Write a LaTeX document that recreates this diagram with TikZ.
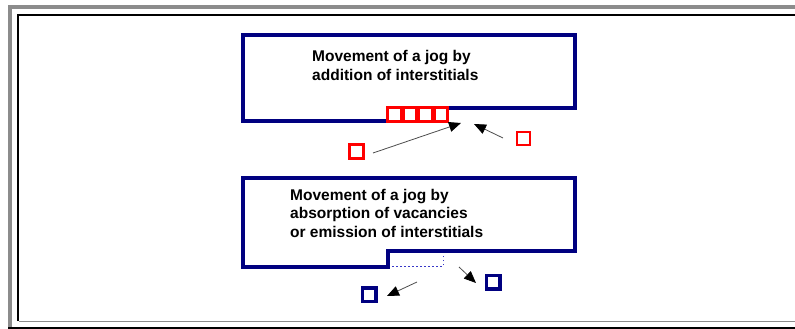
\documentclass[tikz,border=0pt]{standalone}
\usepackage{fontspec}
\setmainfont{Liberation Sans}
\usetikzlibrary{arrows.meta}
\definecolor{navy}{HTML}{000080}
\definecolor{dotblue}{HTML}{3838C8}
\newlength{\sqsize}
\setlength{\sqsize}{13.5pt}
\tikzset{crystal/.style = {draw=navy, line width=3.5pt, line join=miter}}
\tikzset{inter/.style = {shape=rectangle, draw=red, line width=3pt, minimum size=\sqsize, inner sep=0pt}}
\tikzset{vac/.style = {shape=rectangle, draw=navy, line width=3.5pt, minimum size=\sqsize, inner sep=0pt}}
\tikzset{edge/.style = {-{Triangle[length=12pt,width=10pt,black]}, draw=black!70, line width=0.8pt}}
\tikzset{label/.style = {anchor=base west, align=left, inner sep=0pt, font=\bfseries\fontsize{15.5}{18.6}\selectfont}}

\begin{document}
\begin{tikzpicture}[x=1pt,y=-1pt]
                \useasboundingbox (0,0) rectangle (795,329);
                % frame
                \draw[black!45, line width=4pt] (10,329) -- (10,7) -- (795,7);
                \draw[black, line width=2.5pt] (8,328) -- (795,328);
                \draw[black, line width=2pt] (18,321) -- (18,15) -- (795,15);
                \draw[black!45, line width=1.5pt] (19,321.5) -- (795,321.5);
                % upper crystal
                \draw[crystal] (387,121) -- (243,121) -- (243,35) -- (575,35) -- (575,108) -- (446,108);
                \foreach \i in {0,...,3}
                    \node[inter] (row\i) at (394.3+15.5*\i,114.7) {};
                \node[label] (top) at (312,80.6) {Movement of a jog by\\addition of interstitials};
                \node[inter] (p) at (356.5,151.5) {};
                \node[inter, line width=2pt, minimum size=13pt] (q) at (523,138.5) {};
                \coordinate (pt) at (461,123);
                \coordinate (qt) at (474,124);
                \draw[edge] (373,153) -- (pt);
                \draw[edge] (503,138) -- (qt);
                % lower crystal
                \draw[crystal] (243,178) -- (575,178) -- (575,251) -- (388,251) -- (388,267) -- (243,267) -- cycle;
                \draw[dotblue, line width=0.9pt, dash pattern=on 1.5pt off 2.5pt] (392,266) -- (443,266) -- (443,253);
                \node[label] (bot) at (290,237.2) {Movement of a jog by\\absorption of vacancies\\or emission of interstitials};
                \node[vac] (u) at (369,294.5) {};
                \node[vac] (v) at (493,282) {};
                \coordinate (us) at (417,282);
                \coordinate (vs) at (459,267);
                \draw[edge] (us) -- (387,296);
                \draw[edge] (vs) -- (476,283);
\end{tikzpicture}
\end{document}
